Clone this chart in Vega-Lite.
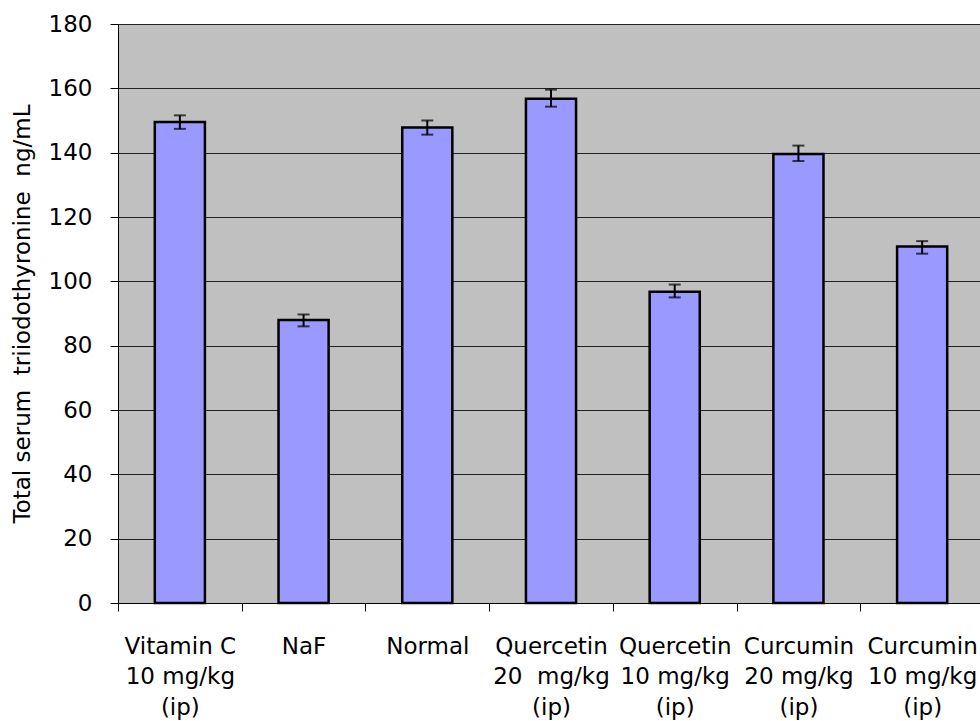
{
  "$schema": "https://vega.github.io/schema/vega-lite/v6.json",
  "width": 862,
  "height": 579,
  "autosize": {"type": "none"},
  "padding": {"left": 118, "top": 24, "right": 0, "bottom": 118},
  "background": "white",
  "config": {
    "view": {"fill": "#C0C0C0", "stroke": null},
    "font": "DejaVu Sans"
  },
  "data": {
    "values": [
      {"group": "Vitamin C|10 mg/kg|(ip)", "value": 149.5, "lo": 147.4, "hi": 151.6},
      {"group": "NaF", "value": 88.0, "lo": 86.0, "hi": 89.7},
      {"group": "Normal", "value": 147.8, "lo": 145.6, "hi": 150.0},
      {"group": "Quercetin|20\u00a0\u00a0mg/kg|(ip)", "value": 156.8, "lo": 154.3, "hi": 159.6},
      {"group": "Quercetin|10 mg/kg|(ip)", "value": 96.8, "lo": 95.0, "hi": 99.0},
      {"group": "Curcumin|20 mg/kg|(ip)", "value": 139.6, "lo": 137.4, "hi": 142.2},
      {"group": "Curcumin|10 mg/kg|(ip)", "value": 110.8, "lo": 108.6, "hi": 112.5}
    ]
  },
  "encoding": {
    "x": {
      "field": "group",
      "type": "nominal",
      "sort": null,
      "scale": {"range": [0, 866], "paddingInner": 0.595, "paddingOuter": 0.2975},
      "axis": {
        "title": null,
        "labelAngle": 0,
        "labelExpr": "split(datum.label, '|')",
        "labelFontSize": 23,
        "labelLineHeight": 30.5,
        "labelColor": "black",
        "labelBaseline": "top",
        "labelPadding": 24,
        "labelLimit": 0,
        "tickOffset": -61.86,
        "labelOffset": 61.86,
        "tickSize": 8,
        "tickColor": "black",
        "tickWidth": 1,
        "domainColor": "black",
        "domainWidth": 1
      }
    }
  },
  "layer": [
    {
      "mark": {"type": "bar", "fill": "#9999FF", "stroke": "black", "strokeWidth": 2.5},
      "encoding": {
        "y": {
          "field": "value",
          "type": "quantitative",
          "scale": {"domain": [0, 180], "nice": false},
          "axis": {
            "title": "Total serum\u00a0\u00a0triiodothyronine\u00a0\u00a0ng/mL",
            "titleFontSize": 23,
            "titleFontWeight": "normal",
            "titleColor": "black",
            "titlePadding": 14,
            "values": [0, 20, 40, 60, 80, 100, 120, 140, 160, 180],
            "labelFontSize": 23,
            "labelColor": "black",
            "labelPadding": 18,
            "tickSize": 8,
            "tickColor": "black",
            "domainColor": "black",
            "grid": true,
            "gridColor": "#222222",
            "gridWidth": 1
          }
        }
      }
    },
    {
      "mark": {"type": "rule", "color": "black", "strokeWidth": 2},
      "encoding": {
        "y": {"field": "lo", "type": "quantitative"},
        "y2": {"field": "hi"}
      }
    },
    {
      "mark": {"type": "tick", "orient": "horizontal", "size": 12, "thickness": 2, "color": "black"},
      "encoding": {"y": {"field": "lo", "type": "quantitative"}}
    },
    {
      "mark": {"type": "tick", "orient": "horizontal", "size": 12, "thickness": 2, "color": "black"},
      "encoding": {"y": {"field": "hi", "type": "quantitative"}}
    }
  ]
}
